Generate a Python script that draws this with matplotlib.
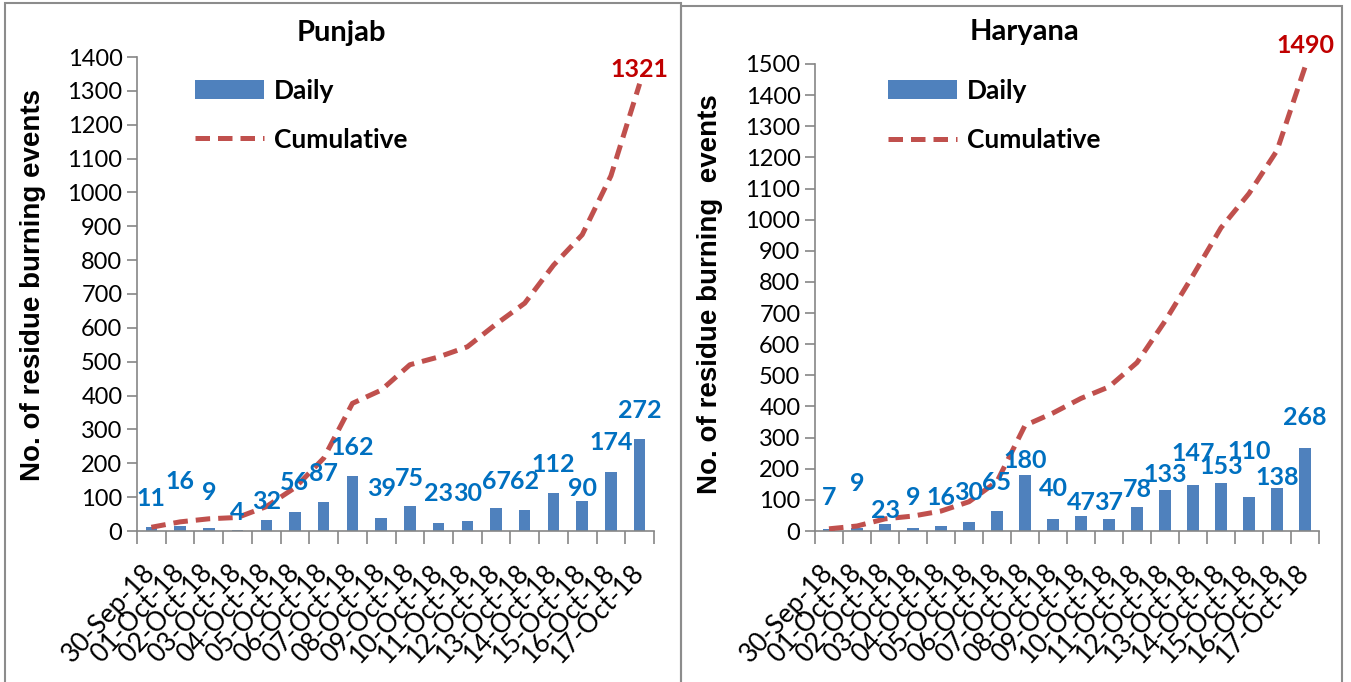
import numpy as np
import matplotlib.pyplot as plt
import matplotlib.transforms as mtransforms
from matplotlib.patches import Rectangle

plt.rcParams['font.family'] = ['Lato', 'DejaVu Sans']

# data
dates = ['30-Sep-18', '01-Oct-18', '02-Oct-18', '03-Oct-18', '04-Oct-18', '05-Oct-18',
         '06-Oct-18', '07-Oct-18', '08-Oct-18', '09-Oct-18', '10-Oct-18', '11-Oct-18',
         '12-Oct-18', '13-Oct-18', '14-Oct-18', '15-Oct-18', '16-Oct-18', '17-Oct-18']

punjab_daily = [11, 16, 9, 4, 32, 56, 87, 162, 39, 75, 23, 30, 67, 62, 112, 90, 174, 272]
punjab_cumulative = [11, 27, 36, 40, 72, 128, 215, 377, 416, 491, 514, 544, 611, 673,
                     785, 875, 1049, 1321]

haryana_daily = [7, 9, 23, 9, 16, 30, 65, 180, 40, 47, 37, 78, 133, 147, 153, 110, 138, 268]
haryana_cumulative = [7, 16, 39, 48, 64, 94, 159, 339, 379, 426, 463, 541, 674, 821,
                      974, 1084, 1222, 1490]

# where the value labels sit (label layout, in data units)
punjab_label_y = [97, 145, 115, 56, 86, 142, 171, 248, 127, 156, 112, 112, 145, 145,
                  195, 127, 260, 357]
haryana_label_y = [106, 154, 67, 106, 106, 125, 157, 228, 138, 93, 93, 132, 180, 250,
                   206, 254, 173, 363]

BAR_COLOR = '#4F81BD'
LINE_COLOR = '#C0504D'
LABEL_COLOR = '#0070C0'
TOTAL_COLOR = '#C00000'
AXIS_GREY = '#868686'

W, H = 1351, 682


def draw_panel(fig, ax, daily, cumulative, label_y, total_y, ymax, legend_anchor):
    x = np.arange(len(dates))
    bars = ax.bar(x, daily, width=0.4, color=BAR_COLOR, zorder=2)
    line, = ax.plot(x, cumulative, color=LINE_COLOR, lw=3.6, linestyle=(0, (2.9, 1.6)),
                    zorder=3)

    for xi, v, ly in zip(x, daily, label_y):
        ax.text(xi, ly, str(v), ha='center', va='center', color=LABEL_COLOR,
                fontsize=18, fontweight='bold', zorder=4)
    ax.text(x[-1], total_y, str(cumulative[-1]), ha='center', va='center',
            color=TOTAL_COLOR, fontsize=18, fontweight='bold', clip_on=False)

    ax.set_xlim(-0.5, len(dates) - 0.5)
    ax.set_ylim(0, ymax)
    ax.set_yticks(np.arange(0, ymax + 1, 100))
    ax.tick_params(axis='y', labelsize=17, length=7, color=AXIS_GREY, width=1.2)

    ax.set_xticks(x)
    ax.set_xticklabels(dates, rotation=47, ha='right', va='center',
                       rotation_mode='anchor', fontsize=19)
    shift = mtransforms.ScaledTranslation(11 / 72, 0, fig.dpi_scale_trans)
    for lab in ax.get_xticklabels():
        lab.set_transform(lab.get_transform() + shift)
    ax.set_xticks(np.arange(-0.5, len(dates)), minor=True)
    ax.tick_params(axis='x', which='major', length=0, pad=27)
    ax.tick_params(axis='x', which='minor', length=9, color=AXIS_GREY, width=1.2)

    for side in ['top', 'right']:
        ax.spines[side].set_visible(False)
    for side in ['left', 'bottom']:
        ax.spines[side].set_color(AXIS_GREY)
        ax.spines[side].set_linewidth(1.2)

    ax.legend([bars, line], ['Daily', 'Cumulative'], loc='upper left',
              bbox_to_anchor=legend_anchor, frameon=False,
              prop={'size': 19, 'weight': 'bold'}, handlelength=2.6, handleheight=0.75,
              handletextpad=0.4, labelspacing=0.95, borderpad=0, borderaxespad=0)


fig = plt.figure(figsize=(W / 100, H / 100), dpi=100)

# panel frames
fig.add_artist(Rectangle((5 / W, -0.01), (681 - 5) / W, 1.01 - 3 / H,
                         transform=fig.transFigure, fill=False, ec='#8c8c8c', lw=1.5))
fig.add_artist(Rectangle((681 / W, -0.01), (1342 - 681) / W, 1.01 - 6 / H,
                         transform=fig.transFigure, fill=False, ec='#8c8c8c', lw=1.5))

ax1 = fig.add_axes([137 / W, 1 - 531 / H, (654 - 137) / W, (531 - 57) / H])
draw_panel(fig, ax1, punjab_daily, punjab_cumulative, punjab_label_y, 1362, 1400,
           (0.112, 0.954))

ax2 = fig.add_axes([815 / W, 1 - 531 / H, (1319 - 815) / W, (531 - 64) / H])
draw_panel(fig, ax2, haryana_daily, haryana_cumulative, haryana_label_y, 1561, 1500,
           (0.145, 0.968))

fig.text(341 / W, 1 - 33 / H, 'Punjab', ha='center', va='center', fontsize=21,
         fontweight='bold')
fig.text(1025 / W, 1 - 32 / H, 'Haryana', ha='center', va='center', fontsize=21,
         fontweight='bold')

fig.text(33 / W, 1 - 285 / H, 'No. of residue burning events', rotation=90,
         ha='center', va='center', fontsize=20, fontweight='bold',
         family='Liberation Sans')
fig.text(710 / W, 1 - 294 / H, 'No. of residue burning  events', rotation=90,
         ha='center', va='center', fontsize=20, fontweight='bold',
         family='Liberation Sans')

fig.savefig('out.png', dpi=100)
